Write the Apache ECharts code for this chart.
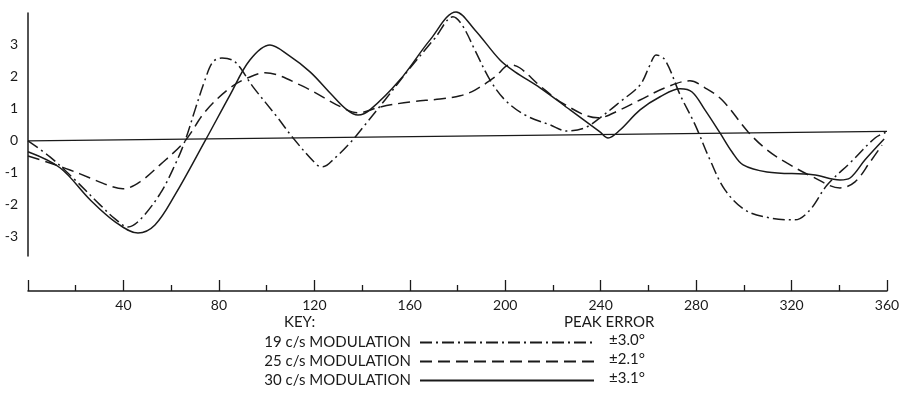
<!DOCTYPE html>
<html>
<head>
<meta charset="utf-8">
<script src="https://cdn.jsdelivr.net/npm/echarts@6/dist/echarts.min.js"></script>
<style>
  html, body { margin: 0; padding: 0; background: #fff; }
  #chart { width: 906px; height: 397px; }
</style>
</head>
<body>
<div id="chart"></div>
<script>
// 数据：角度(度) / 误差(度)
const mod19 = [
  [0, 0], [9.2, -0.5], [19.7, -1.22], [30.2, -2.0], [36.5, -2.44], [41.9, -2.69],
  [46.9, -2.47], [55.3, -1.66], [61.6, -0.75], [65.8, 0], [70.0, 0.97], [74.2, 1.91],
  [77.5, 2.47], [81.3, 2.59], [86.8, 2.47], [94.3, 1.69], [104.4, 0.75], [111.1, 0.09],
  [121.1, -0.75], [123.6, -0.81], [128.7, -0.53], [135.0, -0.06], [141.2, 0.5],
  [149.6, 1.28], [160.1, 2.28], [170.6, 3.22], [178.1, 3.88], [181.9, 3.63],
  [187.3, 2.84], [193.6, 1.91], [199.9, 1.28], [208.3, 0.81], [218.8, 0.5],
  [225.9, 0.31], [233.4, 0.41], [239.7, 0.72], [248.1, 1.22], [256.5, 1.75],
  [260.7, 2.38], [263.2, 2.69], [267.0, 2.53], [273.3, 1.44], [279.6, 0.5],
  [285.8, -0.59], [292.1, -1.53], [300.5, -2.16], [311.0, -2.41], [321.4, -2.47],
  [327.7, -2.16], [334.9, -1.38], [344.5, -0.69], [355.0, 0.09], [360.0, 0.28]
];
const mod25 = [
  [0, -0.47], [9.2, -0.69], [17.6, -0.91], [26.0, -1.16], [34.4, -1.41], [39.8, -1.5],
  [46.9, -1.28], [55.3, -0.75], [65.8, 0], [74.2, 0.91], [84.7, 1.66], [93.0, 2.0],
  [99.3, 2.13], [114.0, 1.75], [132.0, 1.03], [138.3, 0.88], [147.5, 1.06],
  [160.1, 1.22], [172.7, 1.31], [181.1, 1.41], [187.3, 1.59], [195.7, 2.0],
  [202.0, 2.38], [206.2, 2.28], [214.6, 1.72], [225.1, 1.13], [238.9, 0.72],
  [248.1, 0.97], [256.5, 1.28], [267.0, 1.66], [277.4, 1.88], [283.7, 1.66],
  [290.9, 1.28], [301.8, 0.28], [309.7, -0.28], [318.0, -0.69], [329.0, -1.13],
  [340.3, -1.47], [346.6, -1.28], [352.9, -0.66], [357.9, -0.13]
];
const mod30 = [
  [0, -0.34], [13.4, -0.84], [26.0, -1.84], [36.5, -2.53], [46.1, -2.88], [53.2, -2.63],
  [61.6, -1.69], [74.2, 0], [84.7, 1.44], [93.0, 2.53], [101.4, 3.0], [109.0, 2.69],
  [118.2, 2.16], [126.6, 1.5], [133.7, 0.97], [138.3, 0.81], [143.3, 0.97],
  [155.9, 1.91], [168.5, 3.16], [179.4, 4.03], [187.3, 3.47], [197.8, 2.53],
  [204.1, 2.16], [214.6, 1.66], [227.2, 0.97], [239.7, 0.28], [243.1, 0.09],
  [248.1, 0.34], [256.5, 0.97], [264.9, 1.38], [273.3, 1.63], [278.3, 1.53],
  [283.7, 0.97], [290.0, 0.25], [295.0, -0.34], [299.7, -0.75], [309.7, -0.97],
  [329.0, -1.06], [340.3, -1.22], [344.5, -1.16], [350.8, -0.59], [358.8, 0.06]
];
const zeroLine = [[0, 0], [360, 0.3]];
const yLabels = [-3, -2, -1, 0, 1, 2, 3];
const seriesNames = ['19 c/s MODULATION', '25 c/s MODULATION', '30 c/s MODULATION'];
const peakErrors = ['\u00b13.0\u00b0', '\u00b12.1\u00b0', '\u00b13.1\u00b0'];

const FONT = 'Lato, "Open Sans", sans-serif';
const INK = '#1a1a1a';

const chart = echarts.init(document.getElementById('chart'), null, { renderer: 'canvas' });

const dashDot = [12, 4, 2, 4];
const dashed = [12, 6];

function curve(name, data, type) {
  return {
    name: name,
    type: 'line',
    data: data,
    smooth: 0.35,
    symbol: 'none',
    clip: false,
    lineStyle: { color: INK, width: 1.5, type: type },
    itemStyle: { color: INK },
    silent: true
  };
}

// 图例：文字在左、线型在右
function keyLegend(name, top) {
  return {
    data: [name],
    right: 311,
    top: top,
    padding: 0,
    align: 'right',
    itemWidth: 174,
    itemHeight: 12,
    selectedMode: false,
    itemStyle: { opacity: 0 },
    textStyle: { fontFamily: FONT, fontSize: 15, color: INK, padding: [0, 4, 0, 0] }
  };
}

const option = {
  animation: false,
  backgroundColor: '#fff',
  grid: { left: 28, right: 19, top: 13, bottom: 141 },
  xAxis: {
    type: 'value',
    min: 0,
    max: 360,
    interval: 40,
    offset: 35,
    axisLine: { show: true, onZero: false, lineStyle: { color: INK, width: 1.5 } },
    axisTick: { show: true, inside: true, length: 11, lineStyle: { color: INK, width: 1.3 } },
    minorTick: { show: true, splitNumber: 2, length: 6, lineStyle: { color: INK, width: 1.3 } },
    splitLine: { show: false },
    axisLabel: {
      margin: 7,
      fontFamily: FONT,
      fontSize: 14,
      color: INK,
      formatter: v => (v === 0 ? '' : String(v))
    }
  },
  yAxis: {
    type: 'value',
    min: -3.6,
    max: 4,
    axisLine: { show: true, onZero: false, lineStyle: { color: INK, width: 1.5 } },
    axisTick: { show: false },
    splitLine: { show: false },
    axisLabel: {
      margin: 10,
      fontFamily: FONT,
      fontSize: 14,
      color: INK,
      customValues: yLabels,
      formatter: v => String(v)
    }
  },
  legend: [
    keyLegend(seriesNames[0], 335),
    keyLegend(seriesNames[1], 354),
    keyLegend(seriesNames[2], 373)
  ],
  graphic: [
    { type: 'text', left: 284, top: 315, style: { text: 'KEY:', font: '15px ' + FONT, fill: INK } },
    { type: 'text', left: 564, top: 315, style: { text: 'PEAK ERROR', font: '15px ' + FONT, fill: INK } },
    { type: 'text', left: 609, top: 333, style: { text: peakErrors[0], font: '15px ' + FONT, fill: INK } },
    { type: 'text', left: 609, top: 352, style: { text: peakErrors[1], font: '15px ' + FONT, fill: INK } },
    { type: 'text', left: 609, top: 371, style: { text: peakErrors[2], font: '15px ' + FONT, fill: INK } }
  ],
  series: [
    {
      name: 'zero',
      type: 'line',
      data: zeroLine,
      symbol: 'none',
      silent: true,
      lineStyle: { color: INK, width: 1.2 }
    },
    curve(seriesNames[0], mod19, dashDot),
    curve(seriesNames[1], mod25, dashed),
    curve(seriesNames[2], mod30, 'solid')
  ]
};

chart.setOption(option);
</script>
</body>
</html>
